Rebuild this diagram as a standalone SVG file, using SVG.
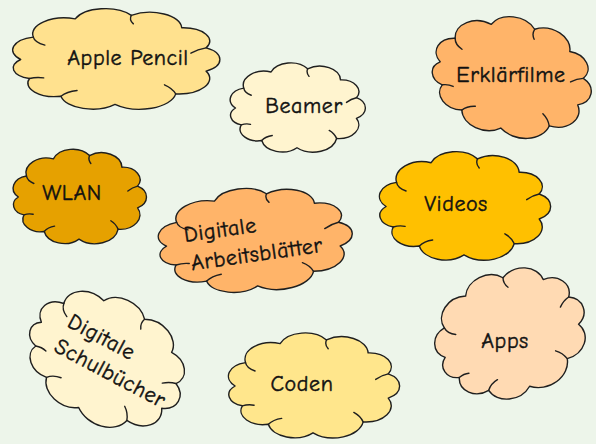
<svg xmlns="http://www.w3.org/2000/svg" xmlns:xlink="http://www.w3.org/1999/xlink" width="596" height="444" viewBox="0 0 596 444">
<style>
.cl{stroke:#1f1f1f;stroke-width:1.4;stroke-linejoin:round}
.cr{fill:none;stroke:#1f1f1f;stroke-width:1.4;stroke-linecap:round}
.t{font-family:"Comic Sans MS","Comic Neue","DejaVu Sans",sans-serif;font-size:22px;letter-spacing:0.6px;fill:#111;stroke:#111;stroke-width:0.45;text-anchor:middle}
.l{text-anchor:start}
</style>
<defs>
<path id="cloud" vector-effect="non-scaling-stroke" d="M9,50 A11.5,11.5 0 0 1 14.5,30.5 A13.8,13.8 0 0 1 32.7,14.7 A14,14 0 0 1 57.1,11.6 A13.8,13.8 0 0 1 79,22.4 A11.6,11.6 0 0 1 89.6,39.9 A11.5,11.5 0 0 1 89.6,60.1 A13.5,13.5 0 0 1 76.4,79.9 A15.8,15.8 0 0 1 50,89 A13.9,13.9 0 0 1 26.5,81.9 A11.7,11.7 0 0 1 12.8,66.5 A9.6,9.6 0 0 1 9,50 Z"/>
<path id="crease" vector-effect="non-scaling-stroke" d="M14.5,30.5 Q15,35 19.5,37.5 M57.1,11.6 Q56,15.5 58,19 M89.6,39.9 Q86,41 83,44.5 M76.4,79.9 Q75,75 71.5,72 M26.5,81.9 Q29,78 33.5,77 M12.8,66.5 Q16,65 19,66"/>
</defs>
<rect width="596" height="444" fill="#EDF5EA"/>
<g id="connectors"/>
<g id="n-apple-pencil">
<use xlink:href="#cloud" class="cl" fill="#FFE18E" transform="translate(0,2) scale(2.3,1.15)"/>
<use xlink:href="#crease" class="cr" transform="translate(0,2) scale(2.3,1.15)"/>
<text class="t" x="128" y="65">Apple Pencil</text>
</g>
<g id="n-beamer">
<use xlink:href="#cloud" class="cl" fill="#FFF4CF" transform="translate(222,57) scale(1.5,1.02)"/>
<use xlink:href="#crease" class="cr" transform="translate(222,57) scale(1.5,1.02)"/>
<text class="t" x="304" y="113">Beamer</text>
</g>
<g id="n-erklaerfilme">
<use xlink:href="#cloud" class="cl" fill="#FFB469" transform="rotate(12 512 75) translate(423,10) scale(1.78,1.34)"/>
<use xlink:href="#crease" class="cr" transform="rotate(12 512 75) translate(423,10) scale(1.78,1.34)"/>
<text class="t" x="511" y="82">Erklärfilme</text>
</g>
<g id="n-wlan">
<use xlink:href="#cloud" class="cl" fill="#E6A100" transform="translate(5,143) scale(1.48,1.08)"/>
<use xlink:href="#crease" class="cr" transform="translate(5,143) scale(1.48,1.08)"/>
<text class="t" x="72" y="200">WLAN</text>
</g>
<g id="n-arbeitsblaetter">
<use xlink:href="#cloud" class="cl" fill="#FFB469" transform="rotate(-4 255 241) translate(147,181) scale(2.15,1.18)"/>
<use xlink:href="#crease" class="cr" transform="rotate(-4 255 241) translate(147,181) scale(2.15,1.18)"/>
<g transform="rotate(-8 185 242)">
<text class="t l" x="185" y="242">Digitale</text>
<text class="t l" x="188" y="271">Arbeitsblätter</text>
</g>
</g>
<g id="n-videos">
<use xlink:href="#cloud" class="cl" fill="#FFC000" transform="translate(369,144.5) scale(1.9,1.24)"/>
<use xlink:href="#crease" class="cr" transform="translate(369,144.5) scale(1.9,1.24)"/>
<text class="t" x="456" y="211">Videos</text>
</g>
<g id="n-schulbuecher">
<g transform="rotate(30 105.5 361)">
<use xlink:href="#cloud" class="cl" fill="#FFF4CF" transform="translate(14.2,288.9) scale(1.826,1.413)"/>
<use xlink:href="#crease" class="cr" transform="translate(14.2,288.9) scale(1.826,1.413)"/>
</g>
<g transform="rotate(28 66 326)">
<text class="t l" x="66" y="326">Digitale</text>
<text class="t l" x="66" y="354">Schulbücher</text>
</g>
</g>
<g id="n-coden">
<use xlink:href="#cloud" class="cl" fill="#FFE68C" transform="translate(218,326) scale(1.9,1.2)"/>
<use xlink:href="#crease" class="cr" transform="translate(218,326) scale(1.9,1.2)"/>
<text class="t" x="302" y="391">Coden</text>
</g>
<g id="n-apps">
<g transform="rotate(-20 511 335)">
<use xlink:href="#cloud" class="cl" fill="#FFDAB3" transform="translate(426.2,261.8) scale(1.696,1.435)"/>
<use xlink:href="#crease" class="cr" transform="translate(426.2,261.8) scale(1.696,1.435)"/>
</g>
<text class="t" x="505" y="348">Apps</text>
</g>
</svg>
